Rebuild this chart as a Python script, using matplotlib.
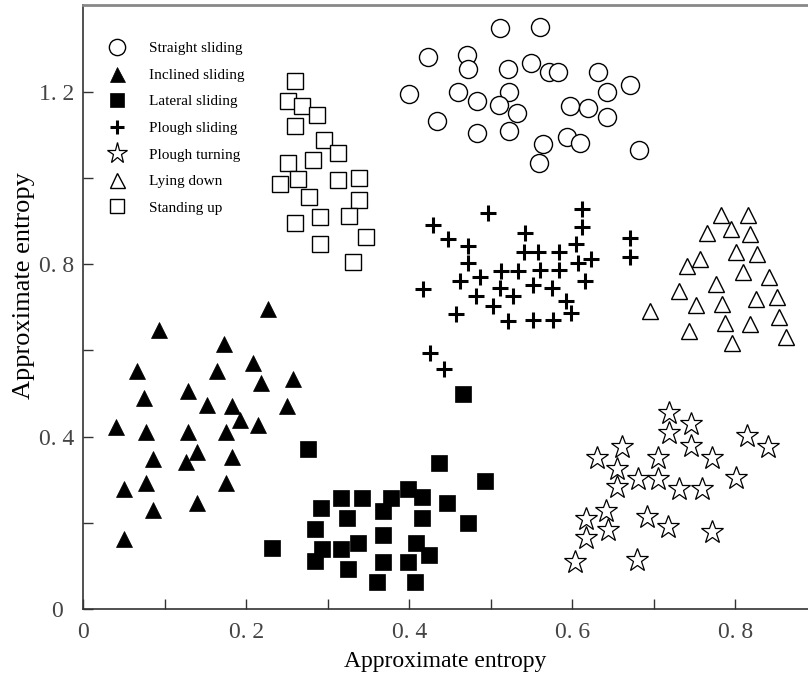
import matplotlib
matplotlib.use("Agg")
import matplotlib.pyplot as plt
from matplotlib.ticker import FixedLocator

plt.rcParams['font.family'] = ['Liberation Serif', 'DejaVu Serif']

# approximate entropy pairs, one pair of arrays per behaviour
straight_x = [0.511, 0.560, 0.423, 0.471, 0.472, 0.521, 0.549, 0.571, 0.582, 0.632,
              0.400, 0.460, 0.483, 0.522, 0.510, 0.532, 0.597, 0.619, 0.643, 0.671,
              0.643, 0.434, 0.483, 0.522, 0.564, 0.593, 0.609, 0.559, 0.682]
straight_y = [1.348, 1.350, 1.281, 1.285, 1.253, 1.253, 1.267, 1.246, 1.246, 1.246,
              1.195, 1.200, 1.179, 1.200, 1.169, 1.151, 1.167, 1.162, 1.200, 1.216,
              1.142, 1.132, 1.104, 1.109, 1.079, 1.095, 1.081, 1.035, 1.065]

inclined_x = [0.227, 0.093, 0.173, 0.208, 0.066, 0.164, 0.257, 0.218, 0.128, 0.074,
              0.152, 0.182, 0.250, 0.192, 0.040, 0.077, 0.128, 0.175, 0.214, 0.140,
              0.086, 0.126, 0.182, 0.050, 0.077, 0.175, 0.086, 0.140, 0.050]
inclined_y = [0.696, 0.647, 0.615, 0.571, 0.552, 0.552, 0.534, 0.524, 0.506, 0.490,
              0.473, 0.471, 0.471, 0.439, 0.422, 0.411, 0.411, 0.411, 0.427, 0.364,
              0.348, 0.341, 0.353, 0.278, 0.292, 0.292, 0.230, 0.246, 0.162]

lateral_x = [0.466, 0.276, 0.436, 0.493, 0.398, 0.316, 0.342, 0.378, 0.416, 0.292,
             0.324, 0.368, 0.416, 0.446, 0.472, 0.284, 0.368, 0.337, 0.408, 0.232,
             0.293, 0.316, 0.424, 0.284, 0.368, 0.398, 0.325, 0.360, 0.407]
lateral_y = [0.499, 0.371, 0.339, 0.297, 0.278, 0.258, 0.258, 0.258, 0.260, 0.234,
             0.211, 0.227, 0.211, 0.246, 0.200, 0.186, 0.172, 0.153, 0.153, 0.142,
             0.139, 0.139, 0.125, 0.111, 0.109, 0.109, 0.093, 0.063, 0.063]

plough_slide_x = [0.497, 0.612, 0.429, 0.612, 0.447, 0.542, 0.472, 0.605, 0.541, 0.558,
                  0.584, 0.472, 0.607, 0.623, 0.513, 0.533, 0.560, 0.584, 0.487, 0.462,
                  0.417, 0.552, 0.511, 0.575, 0.616, 0.482, 0.527, 0.592, 0.503, 0.598,
                  0.457, 0.521, 0.552, 0.576, 0.671, 0.671, 0.425, 0.443]
plough_slide_y = [0.919, 0.928, 0.891, 0.886, 0.858, 0.872, 0.842, 0.847, 0.828, 0.828,
                  0.828, 0.803, 0.803, 0.812, 0.784, 0.784, 0.787, 0.787, 0.770, 0.761,
                  0.742, 0.752, 0.745, 0.745, 0.761, 0.726, 0.726, 0.715, 0.703, 0.687,
                  0.684, 0.668, 0.671, 0.671, 0.861, 0.817, 0.594, 0.557]

plough_turn_x = [0.719, 0.746, 0.719, 0.814, 0.840, 0.661, 0.746, 0.630, 0.705, 0.771,
                 0.655, 0.681, 0.705, 0.801, 0.655, 0.731, 0.759, 0.641, 0.617, 0.692,
                 0.644, 0.717, 0.771, 0.617, 0.603, 0.679]
plough_turn_y = [0.455, 0.429, 0.408, 0.401, 0.376, 0.376, 0.378, 0.350, 0.350, 0.350,
                 0.325, 0.302, 0.302, 0.304, 0.283, 0.278, 0.278, 0.227, 0.209, 0.213,
                 0.183, 0.190, 0.179, 0.165, 0.109, 0.114]

lying_x = [0.782, 0.816, 0.765, 0.794, 0.818, 0.801, 0.827, 0.757, 0.741, 0.809,
           0.841, 0.776, 0.731, 0.825, 0.851, 0.752, 0.784, 0.695, 0.854, 0.787,
           0.818, 0.743, 0.862, 0.796]
lying_y = [0.914, 0.914, 0.872, 0.882, 0.870, 0.828, 0.824, 0.812, 0.796, 0.782,
           0.770, 0.754, 0.738, 0.719, 0.724, 0.705, 0.708, 0.691, 0.677, 0.664,
           0.661, 0.645, 0.631, 0.617]

standing_x = [0.260, 0.251, 0.268, 0.287, 0.260, 0.295, 0.313, 0.282, 0.251, 0.263,
              0.241, 0.313, 0.338, 0.277, 0.338, 0.290, 0.326, 0.260, 0.347, 0.290,
              0.331]
standing_y = [1.225, 1.179, 1.167, 1.146, 1.121, 1.088, 1.058, 1.042, 1.035, 0.998,
              0.986, 0.995, 1.000, 0.956, 0.949, 0.910, 0.912, 0.896, 0.863, 0.847,
              0.805]

x_ticks = [0, 0.2, 0.4, 0.6, 0.8]
x_tick_labels = ["0", "0. 2", "0. 4", "0. 6", "0. 8"]
y_ticks = [0, 0.4, 0.8, 1.2]
y_tick_labels = ["0", "0. 4", "0. 8", "1. 2"]

fig = plt.figure(figsize=(8.08, 6.8), dpi=100)
ax = fig.add_axes([0.1031, 0.1044, 0.8969, 0.8882])

groups = [
    ("Straight sliding", straight_x, straight_y, dict(marker='o', ms=13, mfc='white', mew=1.0)),
    ("Inclined sliding", inclined_x, inclined_y, dict(marker='^', ms=12, mfc='black', mew=0.5)),
    ("Lateral sliding", lateral_x, lateral_y, dict(marker='s', ms=11, mfc='black', mew=0.5)),
    ("Plough sliding", plough_slide_x, plough_slide_y, dict(marker='+', ms=11, mew=2.2)),
    ("Plough turning", plough_turn_x, plough_turn_y, dict(marker='*', ms=17, mfc='white', mew=0.9)),
    ("Lying down", lying_x, lying_y, dict(marker='^', ms=12, mfc='white', mew=1.0)),
    ("Standing up", standing_x, standing_y, dict(marker='s', ms=11, mfc='white', mew=1.0)),
]

for label, xs, ys, style in groups:
    ax.plot(xs, ys, ls='none', mec='black', color='black', label=label, **style)

ax.set_xlim(0, 0.889)
ax.set_ylim(0, 1.401)

ax.xaxis.set_major_locator(FixedLocator(x_ticks))
ax.xaxis.set_minor_locator(FixedLocator([0.1, 0.3, 0.5, 0.7]))
ax.yaxis.set_major_locator(FixedLocator(y_ticks))
ax.yaxis.set_minor_locator(FixedLocator([0.2, 0.6, 1.0]))
ax.set_xticklabels(x_tick_labels)
ax.set_yticklabels(y_tick_labels)

ax.tick_params(which='both', direction='in', length=7.5, width=1.0, color='#333333')
ax.tick_params(axis='x', which='major', pad=9, labelsize=17, labelcolor='#444444')
ax.tick_params(axis='y', which='major', pad=19, labelsize=17, labelcolor='#444444')
for lab in ax.get_yticklabels():
    lab.set_horizontalalignment('center')

ax.spines['right'].set_visible(False)
ax.spines['top'].set_color('#888888')
ax.spines['top'].set_linewidth(2.0)
ax.spines['left'].set_color('#333333')
ax.spines['bottom'].set_color('#333333')
ax.spines['left'].set_linewidth(1.2)
ax.spines['bottom'].set_linewidth(1.2)

ax.set_xlabel("Approximate entropy", fontsize=17, labelpad=6)
ax.set_ylabel("Approximate entropy", fontsize=19, labelpad=2)
ax.yaxis.set_label_coords(-0.067, 0.535)

ax.legend(loc='upper left', bbox_to_anchor=(0.006, 0.962), frameon=False,
          fontsize=11, labelspacing=0.84, handletextpad=1.1, numpoints=1,
          markerscale=0.9)

fig.savefig("out.png", dpi=100)
